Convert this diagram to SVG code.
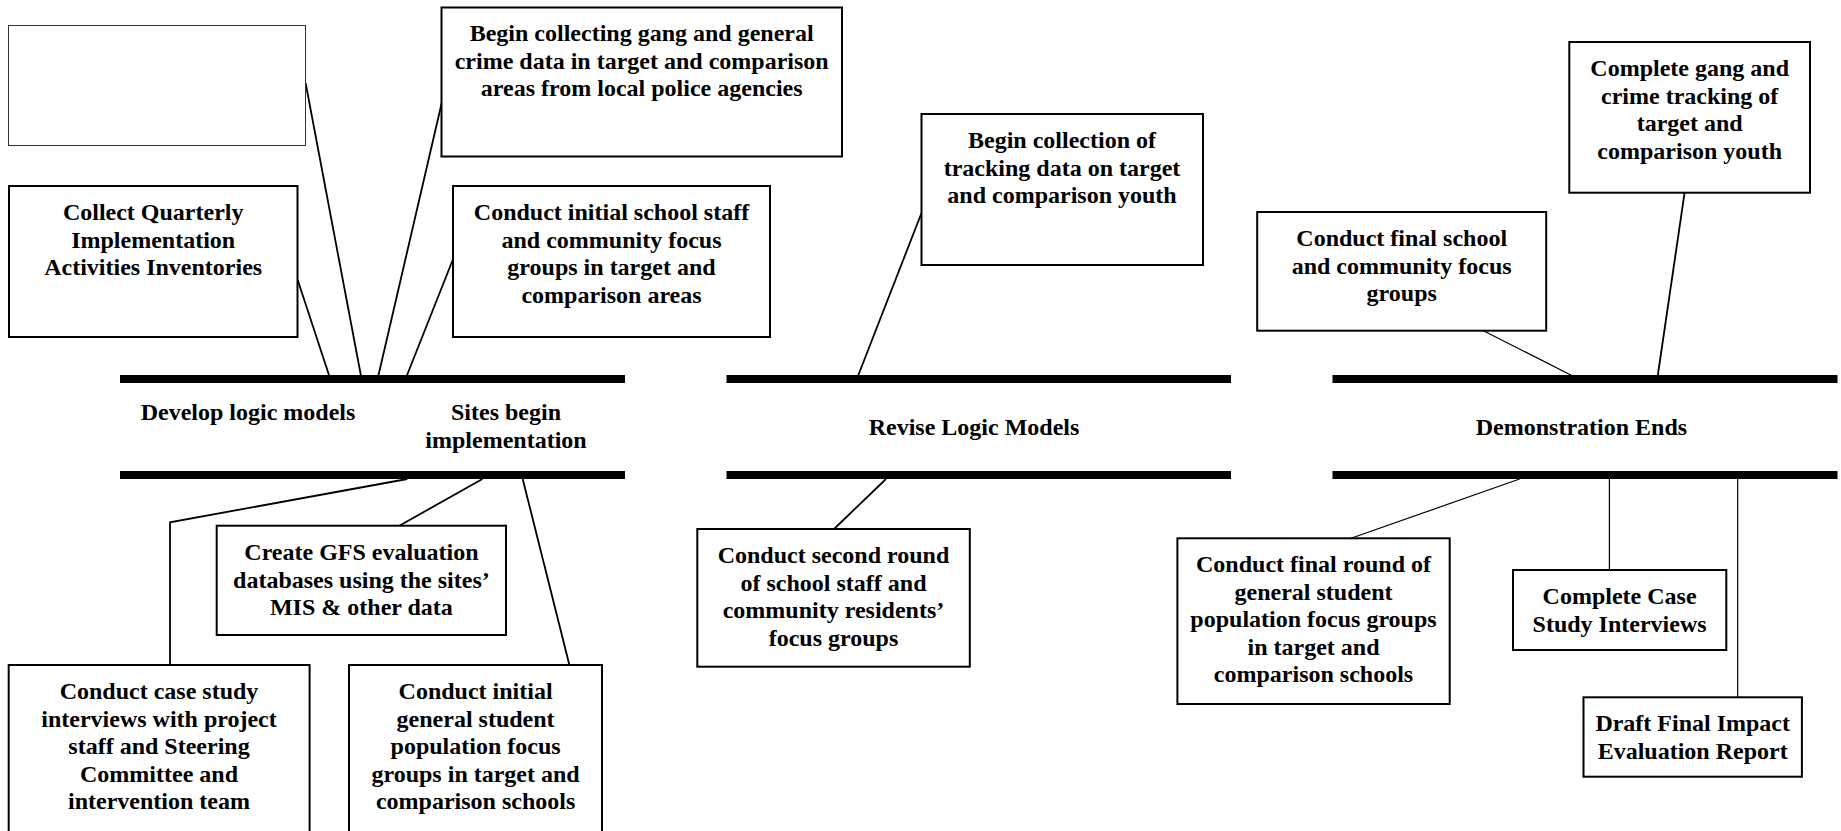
<svg xmlns="http://www.w3.org/2000/svg" width="1841" height="831" viewBox="0 0 1841 831">
<style>
.box{fill:#fff;stroke:#000;stroke-width:2}
.empty{fill:#fff;stroke:#333;stroke-width:1}
.bar{fill:#000}
.ln{stroke:#000;stroke-width:1.8;fill:none}
.thin{stroke:#000;stroke-width:1.2;fill:none}
text{font-family:"Liberation Serif","Times New Roman",serif;font-weight:bold;font-size:24px;fill:#000;text-anchor:middle}
</style>
<rect width="1841" height="831" fill="#fff"/>
<g id="bars">
<rect class="bar" x="120" y="375" width="505" height="8"/>
<rect class="bar" x="120" y="471" width="505" height="8"/>
<rect class="bar" x="726.5" y="375" width="504.5" height="8"/>
<rect class="bar" x="726.5" y="471" width="504.5" height="8"/>
<rect class="bar" x="1332.5" y="375" width="505" height="8"/>
<rect class="bar" x="1332.5" y="471" width="505" height="8"/>
</g>
<g id="connectors">
<line class="ln" x1="305.6" y1="83" x2="361" y2="376"/>
<line class="ln" x1="297.7" y1="280" x2="329.3" y2="376"/>
<line class="ln" x1="441.7" y1="103" x2="378.3" y2="376"/>
<line class="ln" x1="452.7" y1="260" x2="406.7" y2="376"/>
<polyline class="ln" points="407.3,479 170,522.3 170,665"/>
<line class="ln" x1="482.4" y1="479" x2="399.4" y2="525.7"/>
<line class="ln" x1="522.7" y1="479" x2="569.4" y2="665"/>
<line class="ln" x1="921.5" y1="213" x2="858" y2="376"/>
<line class="ln" x1="886" y1="479" x2="834" y2="529"/>
<line class="thin" x1="1483.4" y1="330.7" x2="1572.7" y2="376"/>
<line class="ln" x1="1684.6" y1="192.7" x2="1657.7" y2="376"/>
<line class="thin" x1="1519.6" y1="479" x2="1351" y2="538.3"/>
<line class="thin" x1="1609.4" y1="479" x2="1609.4" y2="570"/>
<line class="thin" x1="1737.7" y1="479" x2="1737.7" y2="697.3"/>
</g>
<g id="labels">
<text x="248" y="420">Develop logic models</text>
<text x="506" y="420">Sites begin</text>
<text x="506" y="447.6">implementation</text>
<text x="974" y="435">Revise Logic Models</text>
<text x="1581.4" y="435">Demonstration Ends</text>
</g>
<g id="node-empty"><rect class="empty" x="8.5" y="25.5" width="297" height="120"/></g>
<g id="node-collect">
<rect class="box" x="9" y="186" width="288.5" height="151"/>
<text x="153.2" y="220">Collect Quarterly</text>
<text x="153.2" y="247.6">Implementation</text>
<text x="153.2" y="275.2">Activities Inventories</text>
</g>
<g id="node-begin-collecting">
<rect class="box" x="441.5" y="7.5" width="400.5" height="149"/>
<text x="641.7" y="41">Begin collecting gang and general</text>
<text x="641.7" y="68.6">crime data in target and comparison</text>
<text x="641.7" y="96.2">areas from local police agencies</text>
</g>
<g id="node-initial-school">
<rect class="box" x="453" y="186" width="317" height="151"/>
<text x="611.5" y="220">Conduct initial school staff</text>
<text x="611.5" y="247.6">and community focus</text>
<text x="611.5" y="275.2">groups in target and</text>
<text x="611.5" y="302.8">comparison areas</text>
</g>
<g id="node-tracking">
<rect class="box" x="921.5" y="114" width="281.5" height="151"/>
<text x="1062" y="148">Begin collection of</text>
<text x="1062" y="175.6">tracking data on target</text>
<text x="1062" y="203.2">and comparison youth</text>
</g>
<g id="node-complete-gang">
<rect class="box" x="1569.3" y="42" width="240.7" height="150.7"/>
<text x="1689.7" y="76">Complete gang and</text>
<text x="1689.7" y="103.6">crime tracking of</text>
<text x="1689.7" y="131.2">target and</text>
<text x="1689.7" y="158.8">comparison youth</text>
</g>
<g id="node-final-school">
<rect class="box" x="1257.2" y="212" width="289" height="118.7"/>
<text x="1401.7" y="246">Conduct final school</text>
<text x="1401.7" y="273.6">and community focus</text>
<text x="1401.7" y="301.2">groups</text>
</g>
<g id="node-create-gfs">
<rect class="box" x="216.7" y="525.7" width="289.3" height="109.3"/>
<text x="361.4" y="560">Create GFS evaluation</text>
<text x="361.4" y="587.6">databases using the sites’</text>
<text x="361.4" y="615.2">MIS &amp; other data</text>
</g>
<g id="node-case-study">
<rect class="box" x="8.7" y="665" width="300.9" height="180"/>
<text x="159" y="699">Conduct case study</text>
<text x="159" y="726.6">interviews with project</text>
<text x="159" y="754.2">staff and Steering</text>
<text x="159" y="781.8">Committee and</text>
<text x="159" y="809.4">intervention team</text>
</g>
<g id="node-initial-general">
<rect class="box" x="349" y="665" width="253" height="180"/>
<text x="475.6" y="699">Conduct initial</text>
<text x="475.6" y="726.6">general student</text>
<text x="475.6" y="754.2">population focus</text>
<text x="475.6" y="781.8">groups in target and</text>
<text x="475.6" y="809.4">comparison schools</text>
</g>
<g id="node-second-round">
<rect class="box" x="697.3" y="529" width="272.5" height="137.7"/>
<text x="833.5" y="563">Conduct second round</text>
<text x="833.5" y="590.6">of school staff and</text>
<text x="833.5" y="618.2">community residents’</text>
<text x="833.5" y="645.8">focus groups</text>
</g>
<g id="node-final-round">
<rect class="box" x="1177.4" y="538.3" width="272.3" height="165.7"/>
<text x="1313.5" y="572">Conduct final round of</text>
<text x="1313.5" y="599.6">general student</text>
<text x="1313.5" y="627.2">population focus groups</text>
<text x="1313.5" y="654.8">in target and</text>
<text x="1313.5" y="682.4">comparison schools</text>
</g>
<g id="node-complete-case">
<rect class="box" x="1513" y="570" width="213.3" height="80"/>
<text x="1619.6" y="604">Complete Case</text>
<text x="1619.6" y="631.6">Study Interviews</text>
</g>
<g id="node-draft-final">
<rect class="box" x="1583.5" y="697.3" width="218.4" height="79.4"/>
<text x="1692.7" y="731">Draft Final Impact</text>
<text x="1692.7" y="758.6">Evaluation Report</text>
</g>
</svg>
